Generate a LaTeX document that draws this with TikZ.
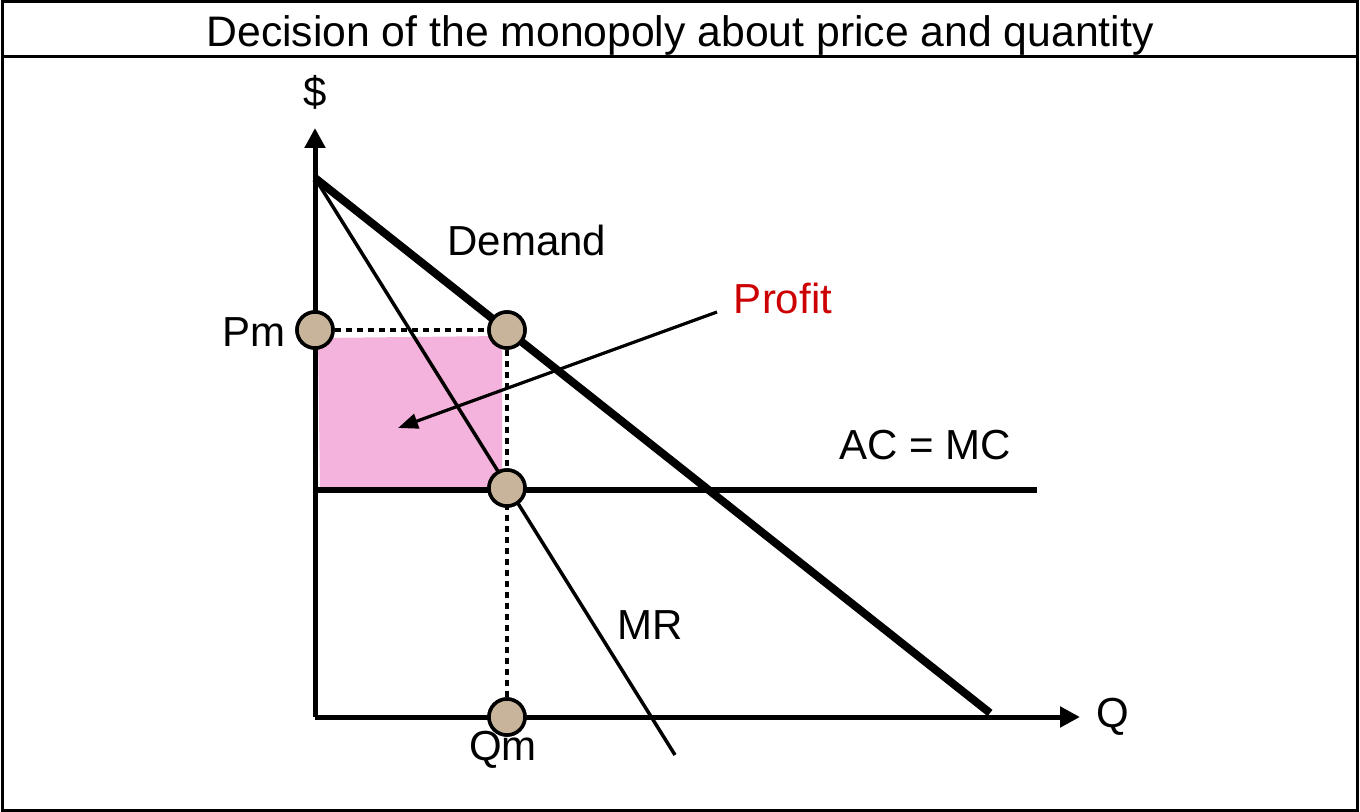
\documentclass[tikz,border=0pt]{standalone}
\usepackage{fontspec}
\setmainfont{Liberation Sans}
\usetikzlibrary{arrows.meta}
\definecolor{tan}{HTML}{C8B49A}
\definecolor{pinkfill}{HTML}{F4B3DC}
\definecolor{profitred}{HTML}{CC0000}
\begin{document}
\begin{tikzpicture}[x=0.5pt,y=-0.5pt,
  lbl/.style={inner sep=0pt,font=\fontsize{21pt}{25pt}\selectfont},
  dot/.style={circle,draw=black,line width=1.75pt,fill=tan,minimum size=18pt,inner sep=0pt},
  axis/.style={line width=2.5pt,-{Triangle[length=10pt,width=10pt]}},
  guide/.style={line width=2pt,dash pattern=on 3pt off 2.5pt},
  thinarrow/.style={line width=1.6pt,-{Triangle[length=10pt,width=7.5pt]}}]
\useasboundingbox (0,0) rectangle (1360,812);
% frame
\draw[line width=1.5pt] (2,2) rectangle (1357,810);
\draw[line width=1.5pt] (2,57) -- (1357,57);
\node[inner sep=0pt,font=\fontsize{21.35pt}{25pt}\selectfont] (title) at (680,35) {Decision of the monopoly about price and quantity};
% profit area
\fill[pinkfill] (318,338) -- (502,336) -- (502,487) -- (320,488) -- cycle;
% coordinates
\coordinate (origin) at (315,717);
\coordinate (ytip) at (315,128);
\coordinate (xtip) at (1080,717);
\coordinate (dtop) at (315,178);
\coordinate (dend) at (990,713);
\coordinate (mrend) at (675,755);
\coordinate (acstart) at (315,490);
\coordinate (acend) at (1037,490);
\coordinate (pstart) at (717,312);
\coordinate (pend) at (398,428);
% guides
\node[dot] (pm) at (315,330) {};
\node[dot] (dpt) at (507,330) {};
\node[dot] (mcpt) at (507,488) {};
\node[dot] (qm) at (507,717) {};
\draw[guide] (pm) -- (dpt);
\draw[guide] (dpt) -- (qm);
% axes
\draw[axis] (origin) -- (ytip);
\draw[axis] (origin) -- (xtip);
% curves
\draw[line width=4pt] (dtop) -- (dend);
\draw[line width=1.75pt] (dtop) -- (mrend);
\draw[line width=3pt] (acstart) -- (acend);
% dots on top
\node[dot] at (pm) {};
\node[dot] at (dpt) {};
\node[dot] at (mcpt) {};
\node[dot] at (qm) {};
% profit arrow
\draw[thinarrow] (pstart) -- (pend);
% labels
\node[lbl] (dollar) at (315,92) {\$};
\node[lbl] (demand) at (527,240) {Demand};
\node[lbl,text=profitred] (profit) at (783,298) {Profit};
\node[lbl] (acmc) at (925,445) {AC = MC};
\node[lbl] (mr) at (650,625) {MR};
\node[lbl] (pmlbl) at (254,332) {Pm};
\node[lbl] (qmlbl) at (503,750) {Qm};
\node[lbl] (qlbl) at (1113,717) {Q};
\end{tikzpicture}
\end{document}
